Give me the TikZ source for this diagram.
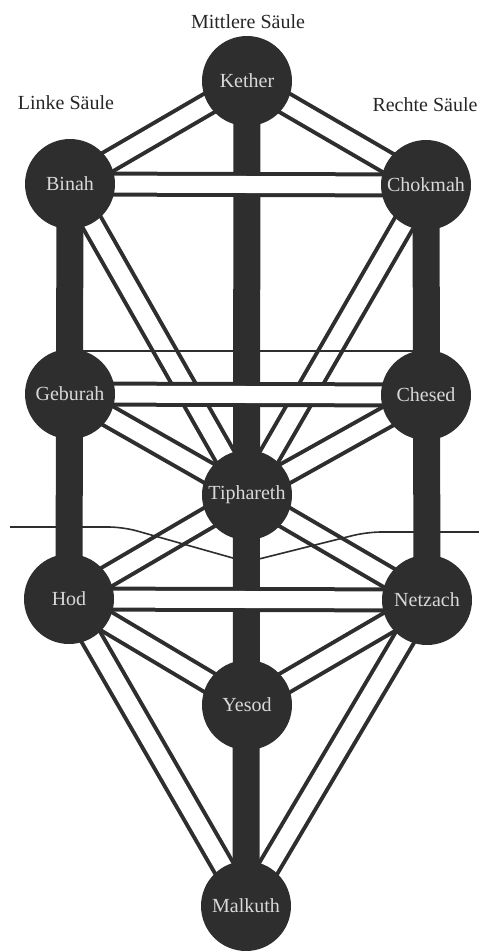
\documentclass[tikz,border=0pt]{standalone}
\usepackage{fontspec}
\setmainfont{Liberation Serif}
\usetikzlibrary{backgrounds}
\definecolor{sefdark}{HTML}{2E2E2E}
\definecolor{seftext}{HTML}{D8D8D8}

\begin{document}
\begin{tikzpicture}[x=1pt, y=-1pt,
    sefira/.style={circle, fill=sefdark, minimum size=90pt, inner sep=0pt,
      text=seftext, font=\rmfamily\fontsize{20}{20}\selectfont},
    pillar/.style={draw=sefdark, line width=27pt},
    pfad/.style={draw=sefdark, line width=4pt, double=white, double distance=17pt},
    veil/.style={draw=sefdark, line width=1.6pt},
    saeule/.style={font=\rmfamily\fontsize{20}{20}\selectfont, text=black!85}]
  \useasboundingbox (0,0) rectangle (479,951);

  % die zehn Sephiroth
  \node[sefira] (kether)    at (247,81)  {Kether};
  \node[sefira] (binah)     at (70,184)  {Binah};
  \node[sefira] (chokmah)   at (426,185) {Chokmah};
  \node[sefira] (geburah)   at (70,394)  {Geburah};
  \node[sefira] (chesed)    at (426,395) {Chesed};
  \node[sefira] (tiphareth) at (247,495) {Tiphareth};
  \node[sefira] (hod)       at (69,599)  {Hod};
  \node[sefira] (netzach)   at (427,600) {Netzach};
  \node[sefira] (yesod)     at (247,705) {Yesod};
  \node[sefira] (malkuth)   at (246,906) {Malkuth};

  % Saeulen
  \node[saeule] (mitte)  at (248,22)  {Mittlere Säule};
  \node[saeule] (links)  at (66,103)  {Linke Säule};
  \node[saeule] (rechts) at (425,105) {Rechte Säule};

  % Schleier
  \coordinate (abyssL) at (70,351);
  \coordinate (abyssR) at (426,351);
  \coordinate (veilA) at (10,527);
  \coordinate (veilB) at (123,527);
  \coordinate (veilC) at (247,562);
  \coordinate (veilD) at (367,532);
  \coordinate (veilE) at (479,532);

  \begin{scope}[on background layer]
    \draw[pillar] (kether.center) -- (malkuth.center);
    \draw[pillar] (binah.center) -- (hod.center);
    \draw[pillar] (chokmah.center) -- (netzach.center);
    \foreach \a/\b in {kether/binah, kether/chokmah, binah/tiphareth,
        chokmah/tiphareth, geburah/tiphareth, chesed/tiphareth,
        tiphareth/hod, tiphareth/netzach, hod/yesod, netzach/yesod,
        hod/malkuth, netzach/malkuth, binah/chokmah, geburah/chesed, hod/netzach}
      \draw[pfad] (\a.center) -- (\b.center);
    \draw[veil] (abyssL) -- (abyssR);
    \draw[veil, rounded corners=14pt] (veilA) -- (veilB) -- (veilC) -- (veilD) -- (veilE);
  \end{scope}
\end{tikzpicture}
\end{document}
